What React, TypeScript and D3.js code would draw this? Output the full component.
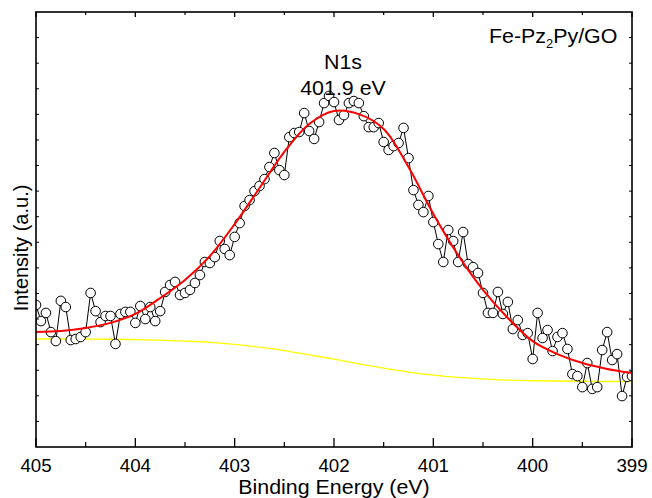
import React from "react";
import * as d3 from "d3";

// Binding energy grid (eV), high -> low, 0.05 eV step
const startEnergy = 405;
const stepEnergy = 0.05;
const intensity = [
  5.55, 4.92, 5.24, 4.49, 4.14, 5.71, 5.47, 4.18, 4.22, 4.30,
  4.49, 6.02, 5.31, 4.88, 5.12, 5.12, 4.03, 5.20, 5.28, 5.28,
  4.85, 5.51, 5.00, 5.47, 4.92, 5.31, 6.06, 6.33, 6.45, 5.94,
  6.02, 6.14, 6.41, 6.72, 7.23, 7.19, 7.42, 8.05, 7.74, 7.50,
  8.21, 8.75, 9.42, 9.65, 10.00, 10.20, 10.47, 10.94, 11.49, 10.82,
  10.63, 12.11, 12.27, 12.31, 13.05, 12.35, 12.04, 12.70, 13.44, 13.72,
  13.48, 12.78, 12.97, 13.44, 13.52, 13.44, 12.93, 12.50, 12.50, 12.66,
  11.92, 11.61, 11.76, 11.88, 12.47, 11.29, 10.04, 9.46, 9.18, 9.81,
  8.79, 7.93, 7.23, 8.48, 8.05, 7.23, 8.40, 7.15, 7.03, 6.80,
  6.02, 5.24, 5.24, 6.06, 5.20, 5.67, 4.61, 4.96, 4.38, 4.45,
  3.44, 5.24, 4.26, 4.57, 3.75, 4.30, 4.45, 3.83, 2.85, 2.77,
  2.34, 3.28, 2.27, 2.34, 3.79, 4.49, 3.40, 3.63, 1.99, 2.74,
  2.77,
];
const energies = intensity.map((_, i) => +(startEnergy - i * stepEnergy).toFixed(2));

// Fitted envelope and background, read every 0.25 eV
const curveStep = 0.25;
const fitValues = [
  4.49, 4.53, 4.65, 4.85, 5.20, 5.82, 6.53, 7.46, 8.71, 10.12,
  11.53, 12.62, 13.13, 13.01, 12.43, 10.94, 9.11, 7.50, 6.14, 5.04,
  4.14, 3.63, 3.28, 3.05, 2.89,
];
const backgroundValues = [
  4.22, 4.22, 4.22, 4.21, 4.20, 4.18, 4.14, 4.09, 4.01, 3.90,
  3.77, 3.60, 3.43, 3.25, 3.08, 2.93, 2.81, 2.72, 2.66, 2.61,
  2.59, 2.58, 2.57, 2.56, 2.56,
];
const curveEnergies = fitValues.map((_, i) => startEnergy - i * curveStep);

const majorTicks = [405, 404, 403, 402, 401, 400, 399];
const minorTicks = [404.5, 403.5, 402.5, 401.5, 400.5, 399.5];
const yTicks = d3.range(1, 17);

const W = 652;
const H = 498;
const left = 36, right = 632, top = 12, bottom = 447;
const FONT = "'Liberation Sans', Arial, Helvetica, sans-serif";
const SX = 1.07;

export default function App() {
  const x = d3.scaleLinear().domain([405, 399]).range([left, right]);
  const y = d3.scaleLinear().domain([0, 17]).range([bottom, top]);

  const pts: [number, number][] = energies.map((e, i) => [e, intensity[i]]);
  const dataLine = d3.line<[number, number]>().x((d) => x(d[0])).y((d) => y(d[1]));
  const smooth = d3
    .line<[number, number]>()
    .x((d) => x(d[0]))
    .y((d) => y(d[1]))
    .curve(d3.curveCatmullRom.alpha(0.5));
  const fitPts: [number, number][] = curveEnergies.map((e, i) => [e, fitValues[i]]);
  const bgPts: [number, number][] = curveEnergies.map((e, i) => [e, backgroundValues[i]]);

  return (
    <svg
      width={W}
      height={H}
      style={{ position: "absolute", left: 0, top: 0, background: "#fff" }}
      fontFamily={FONT}
    >
      <rect x={0} y={0} width={W} height={H} fill="#fff" />
      <defs>
        <clipPath id="plotclip">
          <rect x={left} y={top} width={right - left} height={bottom - top} />
        </clipPath>
      </defs>

      <g clipPath="url(#plotclip)">
        <path d={smooth(bgPts) || ""} fill="none" stroke="#ffff00" strokeWidth={1.3} />
        <path d={dataLine(pts) || ""} fill="none" stroke="#000" strokeWidth={1} />
        {pts.map((d, i) => (
          <circle key={i} cx={x(d[0])} cy={y(d[1])} r={4.8} fill="#fff" stroke="#000" strokeWidth={1} />
        ))}
        <path d={smooth(fitPts) || ""} fill="none" stroke="#ff0000" strokeWidth={2} />
      </g>

      {/* frame */}
      <rect x={left} y={top} width={right - left} height={bottom - top} fill="none" stroke="#000" strokeWidth={1.6} />

      {/* bottom & top ticks */}
      {majorTicks.map((t) => (
        <g key={"M" + t}>
          <line x1={x(t)} x2={x(t)} y1={bottom} y2={bottom - 9} stroke="#000" strokeWidth={1.3} />
          <line x1={x(t)} x2={x(t)} y1={top} y2={top + 5} stroke="#000" strokeWidth={1.3} />
        </g>
      ))}
      {minorTicks.map((t) => (
        <g key={"m" + t}>
          <line x1={x(t)} x2={x(t)} y1={bottom} y2={bottom - 5} stroke="#000" strokeWidth={1.2} />
          <line x1={x(t)} x2={x(t)} y1={top} y2={top + 3} stroke="#000" strokeWidth={1.2} />
        </g>
      ))}
      {yTicks.map((t) => (
        <g key={"y" + t}>
          <line x1={left} x2={left + 3} y1={y(t)} y2={y(t)} stroke="#000" strokeWidth={1} />
          <line x1={right} x2={right - 3} y1={y(t)} y2={y(t)} stroke="#000" strokeWidth={1} />
        </g>
      ))}

      {/* tick labels */}
      {majorTicks.map((t) => (
        <text
          key={"l" + t}
          transform={`translate(${x(t)},472) scale(${SX},1)`}
          textAnchor="middle"
          fontSize={17.5}
          fill="#000"
        >
          {t}
        </text>
      ))}

      <text transform={`translate(334,494) scale(${SX},1)`} textAnchor="middle" fontSize={20} fill="#000">
        Binding Energy (eV)
      </text>
      <text transform="translate(28,248) rotate(-90)" textAnchor="middle" fontSize={20} fill="#000">
        Intensity (a.u.)
      </text>

      <text transform={`translate(343,69) scale(${SX},1)`} textAnchor="middle" fontSize={20} fill="#000">
        N1s
      </text>
      <text transform={`translate(343,95) scale(${SX},1)`} textAnchor="middle" fontSize={20} fill="#000">
        401.9 eV
      </text>

      <text transform={`translate(489,43) scale(${SX},1)`} fontSize={20} fill="#000">
        Fe-Pz
        <tspan fontSize={12} dy={5}>2</tspan>
        <tspan dy={-5}>Py/GO</tspan>
      </text>
    </svg>
  );
}
